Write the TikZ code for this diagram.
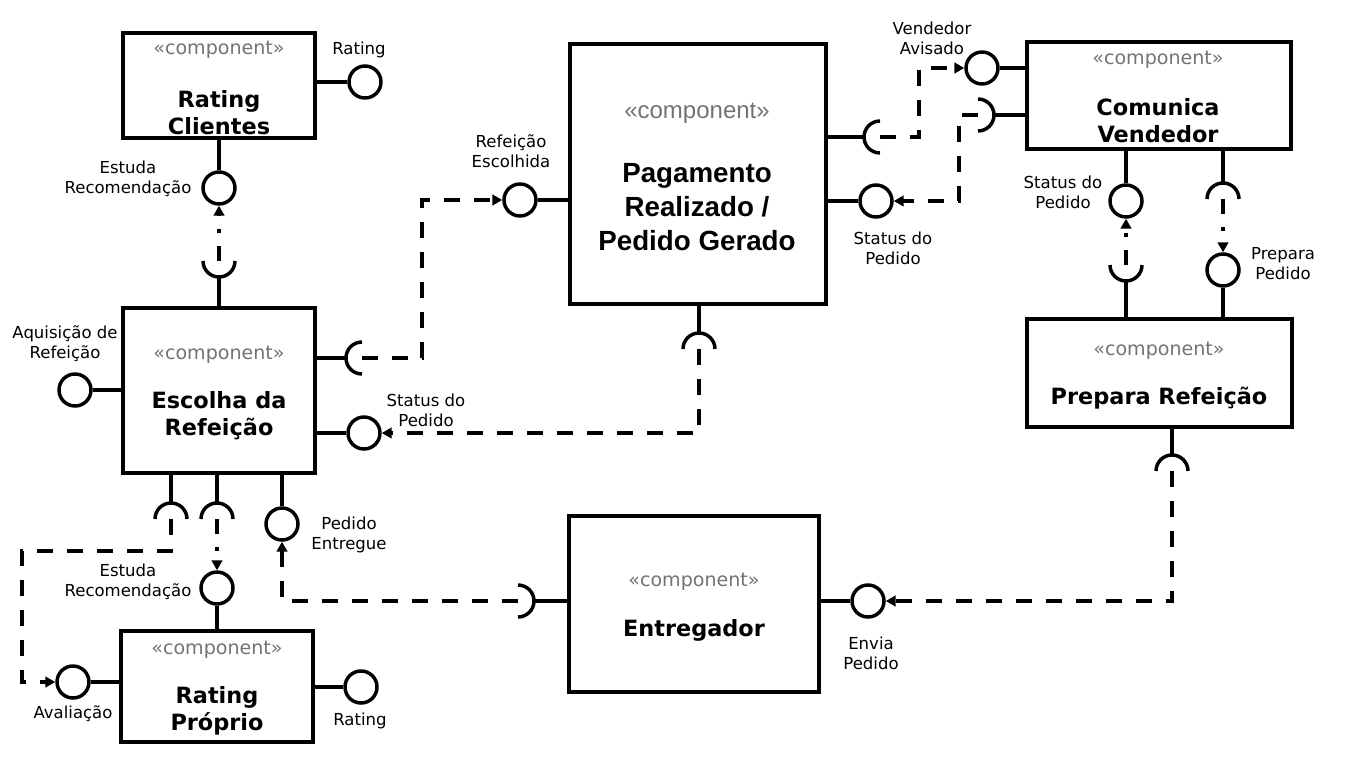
\documentclass[tikz,border=0pt]{standalone}
\usepackage{fontspec}
\setmainfont{DejaVu Sans}
\newfontfamily\arialfont{Liberation Sans}
\usetikzlibrary{arrows.meta}
\tikzset{
    %Define standard arrow tip
    >={Triangle[length=7.5pt,width=8pt]},
    %Define style for component boxes
    comp/.style={
           rectangle,
           draw=black, line width=3pt,
           inner sep=0pt},
    ball/.style={
           circle,
           draw=black, line width=2.6pt,
           fill=white,
           minimum size=24pt,
           inner sep=0pt},
    socket/.style={
           circle,
           minimum size=24pt,
           inner sep=0pt, outer sep=0pt},
    stereo/.style={
           text=black!55,
           yshift=-1.5pt,
           font=\fontsize{14.3}{17}\selectfont},
    cname/.style={
           align=center,
           yshift=-1.5pt,
           font=\fontsize{16.8}{20.2}\selectfont\bfseries},
    lbl/.style={
           align=center,
           yshift=-1.5pt,
           font=\fontsize{12.4}{15}\selectfont},
    % Define connector styles
    conn/.style={line width=2.6pt},
    req/.style={
           ->,
           line width=2.6pt,
           dash pattern=on 12pt off 10.5pt},
    dd/.style={
           ->,
           line width=2.6pt,
           dash pattern=on 11pt off 10pt on 3pt off 10pt}
}
\begin{document}
\begin{tikzpicture}[x=0.75pt,y=-0.75pt]
\useasboundingbox (0,0) rectangle (1355,757);
 %components
\node[comp, minimum width=144pt, minimum height=78.75pt] (rc) at (219,85.5) {};
\node[comp, minimum width=144pt, minimum height=123.75pt] (esc) at (219,390.5) {};
\node[comp, minimum width=192pt, minimum height=195pt] (pag) at (698,174) {};
\node[comp, minimum width=198pt, minimum height=80.25pt] (com) at (1159,95.5) {};
\node[comp, minimum width=198.75pt, minimum height=81pt] (prep) at (1159.5,373) {};
\node[comp, minimum width=187.5pt, minimum height=132pt] (ent) at (694,604) {};
\node[comp, minimum width=144pt, minimum height=83.25pt] (rp) at (217,686.5) {};
 %component texts
\node[stereo] (rcS) at (219,48) {«component»};
\node[cname] (rcN) at (219,110.5) {Rating\\Clientes};
\node[stereo] (escS) at (219,353) {«component»};
\node[cname] (escN) at (219,413.5) {Escolha da\\Refeição};
\node[stereo, font=\arialfont\fontsize{18}{21}\selectfont] (pagS) at (697,111) {«component»};
\node[cname, font=\arialfont\fontsize{20.8}{25.5}\selectfont\bfseries] (pagN) at (697,205) {Pagamento\\Realizado /\\Pedido Gerado};
\node[stereo] (comS) at (1158,58) {«component»};
\node[cname] (comN) at (1158,118.5) {Comunica\\Vendedor};
\node[stereo] (prepS) at (1159,349) {«component»};
\node[cname] (prepN) at (1159,396) {Prepara Refeição};
\node[stereo] (entS) at (694,580) {«component»};
\node[cname] (entN) at (694,628) {Entregador};
\node[stereo] (rpS) at (217,648) {«component»};
\node[cname] (rpN) at (217,708.5) {Rating\\Próprio};
 %provided interfaces
\node[ball] (rcR) at (365,82) {};
\node[ball] (rcEst) at (219,188) {};
\node[ball] (aq) at (75,390) {};
\node[ball] (escSt) at (364,433) {};
\node[ball] (entr) at (282,524) {};
\node[ball] (refE) at (520,200) {};
\node[ball] (pagSt) at (876,201) {};
\node[ball] (avis) at (982,68) {};
\node[ball] (comSt) at (1126,201) {};
\node[ball] (prepP) at (1223,270) {};
\node[ball] (envia) at (868,601) {};
\node[ball] (rpEst) at (217,588) {};
\node[ball] (aval) at (73,682) {};
\node[ball] (rpR) at (361,687) {};
 %sockets
\node[socket] (sRC) at (219,261) {};
\node[socket] (sEscR) at (362,358) {};
\node[socket] (sE1) at (171,519) {};
\node[socket] (sE2) at (217,519) {};
\node[socket] (sPagB) at (699,349) {};
\node[socket] (sPagR) at (880,137) {};
\node[socket] (sCom) at (978,115) {};
\node[socket] (sComB) at (1223,199) {};
\node[socket] (sPrepT) at (1126,265) {};
\node[socket] (sPrepB) at (1172,471) {};
\node[socket] (sEnt) at (518,601) {};
 %solid lines
\draw[conn] (rc.south) -- (rcEst.north);
\draw[conn] (rcR.west -| rc.east) -- (rcR.west);
\draw[conn] (esc.north) -- (sRC.south);
\draw[conn] (aq.east) -- (aq.east -| esc.west);
\draw[conn] (esc.east |- sEscR) -- (sEscR.west);
\draw[conn] (esc.east |- escSt) -- (escSt.west);
\draw[conn] (sE1.north |- esc.south) -- (sE1.north);
\draw[conn] (sE2.north |- esc.south) -- (sE2.north);
\draw[conn] (entr.north |- esc.south) -- (entr.north);
\draw[conn] (pag.west |- refE) -- (refE.east);
\draw[conn] (sPagB.north |- pag.south) -- (sPagB.north);
\draw[conn] (pag.east |- sPagR) -- (sPagR.west);
\draw[conn] (pag.east |- pagSt) -- (pagSt.west);
\draw[conn] (avis.east) -- (avis.east -| com.west);
\draw[conn] (sCom.east) -- (sCom.east -| com.west);
\draw[conn] (comSt.north |- com.south) -- (comSt.north);
\draw[conn] (sComB.north |- com.south) -- (sComB.north);
\draw[conn] (sPrepT.south) -- (sPrepT.south |- prep.north);
\draw[conn] (prepP.south) -- (prepP.south |- prep.north);
\draw[conn] (sPrepB.north |- prep.south) -- (sPrepB.north);
\draw[conn] (sEnt.east) -- (sEnt.east -| ent.west);
\draw[conn] (ent.east |- envia) -- (envia.west);
\draw[conn] (rpEst.south) -- (rpEst.south |- rp.north);
\draw[conn] (aval.east) -- (aval.east -| rp.west);
\draw[conn] (rp.east |- rpR) -- (rpR.west);
 %socket arcs
\foreach \s/\a in {sRC/180, sE1/0, sE2/0, sEscR/90, sPagB/0, sPagR/90, sCom/270, sComB/0, sPrepT/180, sPrepB/0, sEnt/270}
    \draw[conn] (\s.center) ++(\a:12pt) arc[start angle=\a, delta angle=180, radius=12pt];
 %required links
\draw[req] (sEscR.center) -- ++(60,0) |- (refE.west);
\draw[req] (sPagB.center) |- (escSt.east);
\draw[req] (sPagR.center) -- ++(39,0) |- (avis.west);
\draw[req] (sCom.center) -- ++(-19,0) |- (pagSt.east);
\draw[req] (sPrepB.center) |- (envia.east);
\draw[req] (sEnt.center) -| (entr.south);
\draw[req] (sE1.center) -- ++(0,32) -- ++(-149,0) |- (aval.west);
\draw[dd] (sRC.center) -- (rcEst.south);
\draw[dd] (sE2.center) -- (rpEst.north);
\draw[dd] (sPrepT.center) -- (comSt.south);
\draw[dd] (sComB.center) -- (prepP.north);
 %labels
\node[lbl] (rcRL) at (359,48) {Rating};
\node[lbl] (rcEstL) at (128,177) {Estuda\\Recomendação};
\node[lbl] (aqL) at (65,342) {Aquisição de\\Refeição};
\node[lbl] (refEL) at (511,149) {Refeição\\Escolhida};
\node[lbl] (escStL) at (426,408) {Status do\\Pedido};
\node[lbl] (pagStL) at (893,246) {Status do\\Pedido};
\node[lbl] (avisL) at (932,36) {Vendedor\\Avisado};
\node[lbl] (comStL) at (1063,190) {Status do\\Pedido};
\node[lbl] (prepPL) at (1283,262) {Prepara\\Pedido};
\node[lbl] (enviaL) at (871,651) {Envia\\Pedido};
\node[lbl] (entrL) at (349,533) {Pedido\\Entregue};
\node[lbl] (rpEstL) at (128,580) {Estuda\\Recomendação};
\node[lbl] (avalL) at (73,712) {Avaliação};
\node[lbl] (rpRL) at (360,719) {Rating};
\end{tikzpicture}
\end{document}
